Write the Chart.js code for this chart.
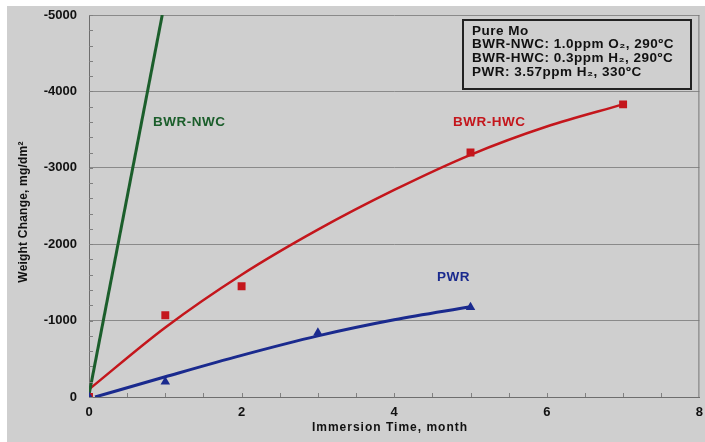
<!DOCTYPE html>
<html><head><meta charset="utf-8">
<script src="https://cdn.jsdelivr.net/npm/chart.js@4"></script>
<style>html,body{margin:0;padding:0;background:#fff}#wrap{width:705px;height:442px}</style>
</head><body><div id="wrap"><canvas id="c" width="705" height="442"></canvas></div>
<script>
// ---- data ----
const xTickValues = [0, 2, 4, 6, 8];
const yTickValues = [0, -1000, -2000, -3000, -4000, -5000];
const hwcTime = [0, 1, 2, 5, 7];
const hwcWeight = [0, -1070, -1450, -3200, -3830];
const pwrTime = [0, 1, 3, 5];
const pwrWeight = [0, -200, -840, -1175];
const nwcFitTime = [0, 0.96];
const nwcFitWeight = [-30, -5000];
const hwcFitTime = [0, 1, 2, 3, 4, 5, 6, 7];
const hwcFitWeight = [-100, -910, -1600, -2190, -2710, -3170, -3540, -3830];
const pwrFitTime = [0.08, 1, 2, 3, 4, 5];
const pwrFitWeight = [0, -265, -545, -800, -1010, -1180];
const curveLabelText = ['BWR-NWC', 'BWR-HWC', 'PWR'];
const curveLabelX = [0.84, 4.77, 4.56];
const curveLabelY = [-3590, -3590, -1570];
const infoLines = ['Pure Mo', 'BWR-NWC: 1.0ppm O\u2082, 290\u00baC', 'BWR-HWC: 0.3ppm H\u2082, 290\u00baC', 'PWR: 3.57ppm H\u2082, 330\u00baC'];
const xTitle = 'Immersion Time, month';
const yTitle = 'Weight Change, mg/dm\u00b2';

const GREEN = '#1b5e2b', RED = '#c4161c', BLUE = '#1a2a8e';
const BG = '#cfcfcf';
const FONT = "'Liberation Sans', Arial, sans-serif";
const pts = (xs, ys) => xs.map((x, i) => ({x: x, y: ys[i]}));

const decor = {
  id: 'decor',
  beforeDraw(chart) {
    const ctx = chart.ctx;
    ctx.save();
    ctx.fillStyle = '#ffffff';
    ctx.fillRect(0, 0, chart.width, chart.height);
    ctx.fillStyle = BG;
    ctx.fillRect(7, 6, chart.width - 7, chart.height - 6);
    ctx.restore();
  },
  afterDatasetsDraw(chart) {
    const ctx = chart.ctx, a = chart.chartArea;
    const xs = chart.scales.x, ys = chart.scales.y;
    ctx.save();
    // right border
    ctx.strokeStyle = '#777777'; ctx.lineWidth = 1;
    ctx.beginPath(); ctx.moveTo(a.right - 0.5, a.top); ctx.lineTo(a.right - 0.5, a.bottom); ctx.stroke();
    // minor ticks
    ctx.strokeStyle = '#808080';
    ctx.beginPath();
    for (let v = 0; v >= -5000; v -= 200) {
      const py = Math.round(ys.getPixelForValue(v)) + 0.5;
      ctx.moveTo(a.left, py); ctx.lineTo(a.left + 4, py);
    }
    for (let v = 0.5; v < 8; v += 0.5) {
      const px = Math.round(xs.getPixelForValue(v)) + 0.5;
      ctx.moveTo(px, a.bottom); ctx.lineTo(px, a.bottom - 4);
    }
    ctx.stroke();
    // info box
    ctx.fillStyle = BG;
    ctx.fillRect(463, 20, 228, 69);
    ctx.strokeStyle = '#222222'; ctx.lineWidth = 2;
    ctx.strokeRect(463, 20, 228, 69);
    ctx.fillStyle = '#111111';
    ctx.font = 'bold 13.5px ' + FONT;
    ctx.letterSpacing = '0.5px';
    ctx.textBaseline = 'middle'; ctx.textAlign = 'left';
    infoLines.forEach((t, i) => ctx.fillText(t, 472, 31 + i * 13.6));
    // curve labels
    const cols = [GREEN, RED, BLUE];
    curveLabelText.forEach((t, i) => {
      ctx.fillStyle = cols[i];
      ctx.fillText(t, xs.getPixelForValue(curveLabelX[i]), ys.getPixelForValue(curveLabelY[i]));
    });
    // axis titles
    ctx.fillStyle = '#111111';
    ctx.font = 'bold 12px ' + FONT;
    ctx.letterSpacing = '1px';
    ctx.textAlign = 'center';
    ctx.fillText(xTitle, 390, 428);
    ctx.letterSpacing = '0.2px';
    ctx.translate(24, 212); ctx.rotate(-Math.PI / 2);
    ctx.fillText(yTitle, 0, 0);
    ctx.restore();
  }
};

new Chart(document.getElementById('c'), {
  type: 'scatter',
  data: {
    datasets: [
      {label: 'PWR', data: pts(pwrTime, pwrWeight), pointStyle: 'triangle', pointRadius: 5.5,
       backgroundColor: BLUE, borderColor: BLUE, borderWidth: 0, showLine: false},
      {label: 'BWR-HWC', data: pts(hwcTime, hwcWeight), pointStyle: 'rect', pointRadius: 5.6,
       backgroundColor: RED, borderColor: RED, borderWidth: 0, showLine: false},
      {label: 'NWC fit', data: pts(nwcFitTime, nwcFitWeight), showLine: true, pointRadius: 0,
       borderColor: GREEN, borderWidth: 3},
      {label: 'HWC fit', data: pts(hwcFitTime, hwcFitWeight), showLine: true, pointRadius: 0,
       borderColor: RED, borderWidth: 2.5, cubicInterpolationMode: 'monotone'},
      {label: 'PWR fit', data: pts(pwrFitTime, pwrFitWeight), showLine: true, pointRadius: 0,
       borderColor: BLUE, borderWidth: 3, cubicInterpolationMode: 'monotone'}
    ]
  },
  options: {
    responsive: false, animation: false, devicePixelRatio: 1,
    layout: {padding: {left: 7, right: 5, top: 15, bottom: 0}},
    plugins: {legend: {display: false}, tooltip: {enabled: false}},
    scales: {
      x: {
        type: 'linear', min: 0, max: 8,
        afterBuildTicks: s => { s.ticks = xTickValues.map(v => ({value: v})); },
        afterFit: s => { s.height = 45; s.paddingLeft = 0; s.paddingRight = 0; },
        ticks: {color: '#111111', font: {family: FONT, size: 13, weight: 'bold'}, padding: 8,
                callback: v => String(v), maxRotation: 0},
        grid: {display: true, drawOnChartArea: false, drawTicks: false},
        border: {display: true, color: '#6e6e6e', width: 1}
      },
      y: {
        type: 'linear', min: -5000, max: 0, reverse: true,
        afterBuildTicks: s => { s.ticks = yTickValues.map(v => ({value: v})); },
        afterFit: s => { s.width = 82; s.paddingTop = 0; s.paddingBottom = 0; },
        ticks: {color: '#111111', font: {family: FONT, size: 13, weight: 'bold'}, padding: 12,
                callback: v => String(v)},
        grid: {color: '#8a8a8a', lineWidth: 1, drawTicks: false},
        border: {display: true, color: '#6e6e6e', width: 1}
      }
    }
  },
  plugins: [decor]
});
</script>
</body></html>
